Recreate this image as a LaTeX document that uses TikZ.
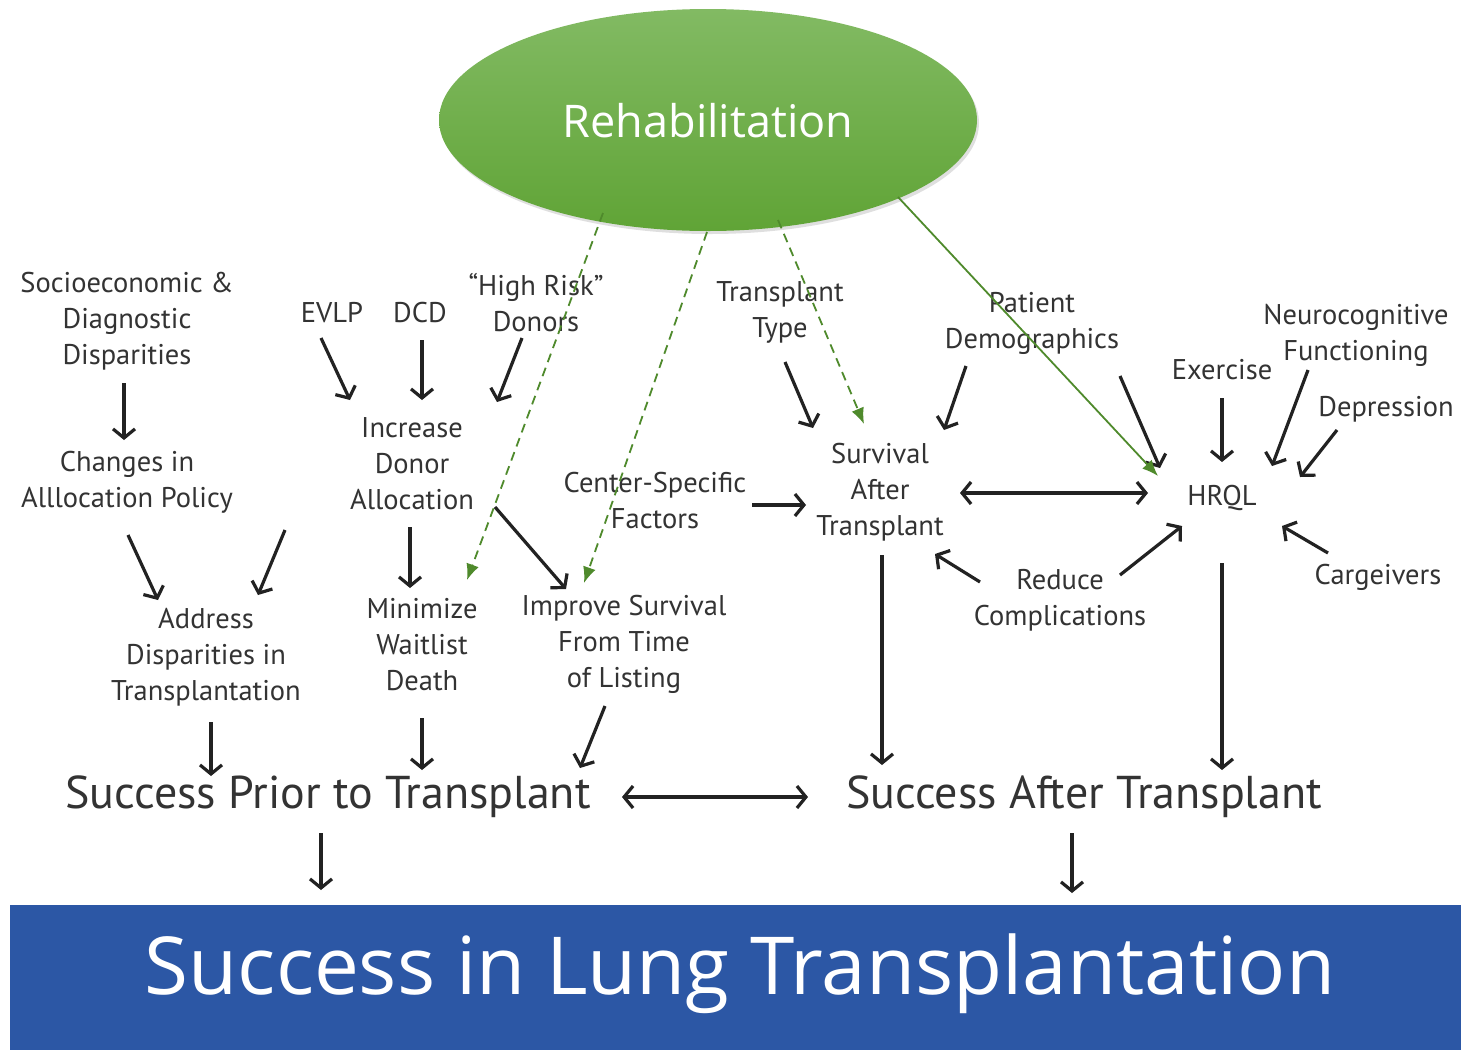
\documentclass[tikz,border=0pt]{standalone}
\usepackage{fontspec}
\setmainfont{PT Sans}
\newfontfamily\bigfont{Open Sans}
\usetikzlibrary{arrows.meta,shadows,shapes.geometric}
\definecolor{txt}{HTML}{333333}
\definecolor{arrblack}{HTML}{222222}
\definecolor{rgreen}{HTML}{4F8A2C}
\definecolor{elltop}{HTML}{82BA63}
\definecolor{ellbot}{HTML}{60A436}
\definecolor{band}{HTML}{2C57A5}
\tikzset{
  lbl/.style={text=txt, align=center, inner sep=0pt, font=\fontsize{28.5}{36}\selectfont},
  big/.style={text=txt, inner sep=0pt, font=\fontsize{46}{50}\selectfont},
  arr/.style={draw=arrblack, line width=3.2pt, -{Straight Barb[length=9pt,width=22pt]}},
  darr/.style={draw=arrblack, line width=3.2pt, {Straight Barb[length=9pt,width=22pt]}-{Straight Barb[length=9pt,width=22pt]}},
  garr/.style={draw=rgreen, line width=1.8pt, dash pattern=on 9pt off 6pt, -{Latex[length=16pt,width=13pt]}},
  gsolid/.style={draw=rgreen, line width=1.8pt, -{Latex[length=16pt,width=13pt]}},
}
\begin{document}
\begin{tikzpicture}[x=1pt,y=-1pt]
\useasboundingbox (0,0) rectangle (1461,1050);
\fill[white] (0,0) rectangle (1461,1050);
% bottom band
\node[fill=band, minimum width=1451pt, minimum height=145pt, inner sep=0pt, anchor=north west] (bandbox) at (10,905) {};
\node[text=white, font=\bigfont\fontsize{80}{90}\selectfont, inner sep=0pt] (lung) at (740,974) {Success in Lung Transplantation};
% ellipse
\node[ellipse, minimum width=538pt, minimum height=222pt, top color=elltop, bottom color=ellbot, draw=none,
      drop shadow={opacity=0.25, shadow xshift=2pt, shadow yshift=-3pt}] (rehab) at (708,120) {};
\node[text=white, font=\bigfont\fontsize{45}{50}\selectfont, inner sep=0pt] (rehabtxt) at (708,121) {Rehabilitation};
% labels
\node[lbl] (socio) at (127,321) {Socioeconomic \&\\Diagnostic\\Disparities};
\node[lbl] (changes) at (127,482) {Changes in\\Alllocation Policy};
\node[lbl] (address) at (206,657) {Address\\Disparities in\\Transplantation};
\node[lbl] (evlp) at (332,313) {EVLP};
\node[lbl] (dcd) at (420,313) {DCD};
\node[lbl] (highrisk) at (536,303) {“High Risk”\\Donors};
\node[lbl] (increase) at (412,464) {Increase\\Donor\\Allocation};
\node[lbl] (minimize) at (422,645) {Minimize\\Waitlist\\Death};
\node[lbl] (improve) at (624,644) {Improve Survival\\From Time\\of Listing};
\node[lbl] (center) at (655,501) {Center-Specific\\Factors};
\node[lbl] (ttype) at (780,312) {Transplant\\Type};
\node[lbl] (survival) at (880,492) {Survival\\After\\Transplant};
\node[lbl] (patient) at (1032,323) {Patient\\Demographics};
\node[lbl] (exercise) at (1222,370) {Exercise};
\node[lbl] (neuro) at (1356,335) {Neurocognitive\\Functioning};
\node[lbl] (depression) at (1386,409) {Depression};
\node[lbl] (hrql) at (1222,498) {HRQL};
\node[lbl] (cargivers) at (1378,577) {Cargeivers};
\node[lbl] (reduce) at (1060,600) {Reduce\\Complications};
\node[big] (prior) at (328,797) {Success Prior to Transplant};
\node[big] (after) at (1084,797) {Success After Transplant};
% arrow end coordinates
\coordinate (a1s) at (124,383); \coordinate (a1e) at (124,440);
\coordinate (a2s) at (128,535); \coordinate (a2e) at (158,600);
\coordinate (a3s) at (285,530); \coordinate (a3e) at (258,595);
\coordinate (a4s) at (211,722); \coordinate (a4e) at (211,776);
\coordinate (a5s) at (321,833); \coordinate (a5e) at (321,890);
\coordinate (a6s) at (622,797); \coordinate (a6e) at (808,797);
\coordinate (a7s) at (1072,833); \coordinate (a7e) at (1072,893);
\coordinate (b1s) at (321,338); \coordinate (b1e) at (350,400);
\coordinate (b2s) at (422,340); \coordinate (b2e) at (422,400);
\coordinate (b3s) at (522,338); \coordinate (b3e) at (497,402);
\coordinate (b4s) at (410,527); \coordinate (b4e) at (410,588);
\coordinate (b5s) at (495,507); \coordinate (b5e) at (566,589);
\coordinate (b6s) at (422,718); \coordinate (b6e) at (422,770);
\coordinate (b7s) at (605,706); \coordinate (b7e) at (580,768);
\coordinate (c1s) at (752,505); \coordinate (c1e) at (806,505);
\coordinate (c2s) at (785,362); \coordinate (c2e) at (813,428);
\coordinate (c3s) at (966,366); \coordinate (c3e) at (944,430);
\coordinate (c4s) at (1120,376); \coordinate (c4e) at (1160,468);
\coordinate (c5s) at (960,493); \coordinate (c5e) at (1148,493);
\coordinate (c6s) at (1222,398); \coordinate (c6e) at (1222,462);
\coordinate (c7s) at (1308,370); \coordinate (c7e) at (1272,466);
\coordinate (c8s) at (1337,430); \coordinate (c8e) at (1300,477);
\coordinate (c9s) at (1328,553); \coordinate (c9e) at (1282,526);
\coordinate (d1s) at (980,582); \coordinate (d1e) at (935,554);
\coordinate (d2s) at (1120,575); \coordinate (d2e) at (1182,526);
\coordinate (d3s) at (882,555); \coordinate (d3e) at (882,765);
\coordinate (d4s) at (1222,563); \coordinate (d4e) at (1222,770);
% black arrows
\foreach \n in {a1,a2,a3,a4,a5,a7,b1,b2,b3,b4,b5,b6,b7,c1,c2,c3,c4,c6,c7,c8,c9,d1,d2,d3,d4}
  \draw[arr] (\n s) -- (\n e);
\draw[darr] (a6s) -- (a6e);
\draw[darr] (c5s) -- (c5e);
% green arrows
\coordinate (g1s) at (603,213); \coordinate (g1e) at (467,580);
\coordinate (g2s) at (707,232); \coordinate (g2e) at (584,583);
\coordinate (g3s) at (778,220); \coordinate (g3e) at (864,424);
\coordinate (g4s) at (898,197); \coordinate (g4e) at (1158,476);
\draw[garr] (g1s) -- (g1e);
\draw[garr] (g2s) -- (g2e);
\draw[garr] (g3s) -- (g3e);
\draw[gsolid] (g4s) -- (g4e);
\end{tikzpicture}
\end{document}
